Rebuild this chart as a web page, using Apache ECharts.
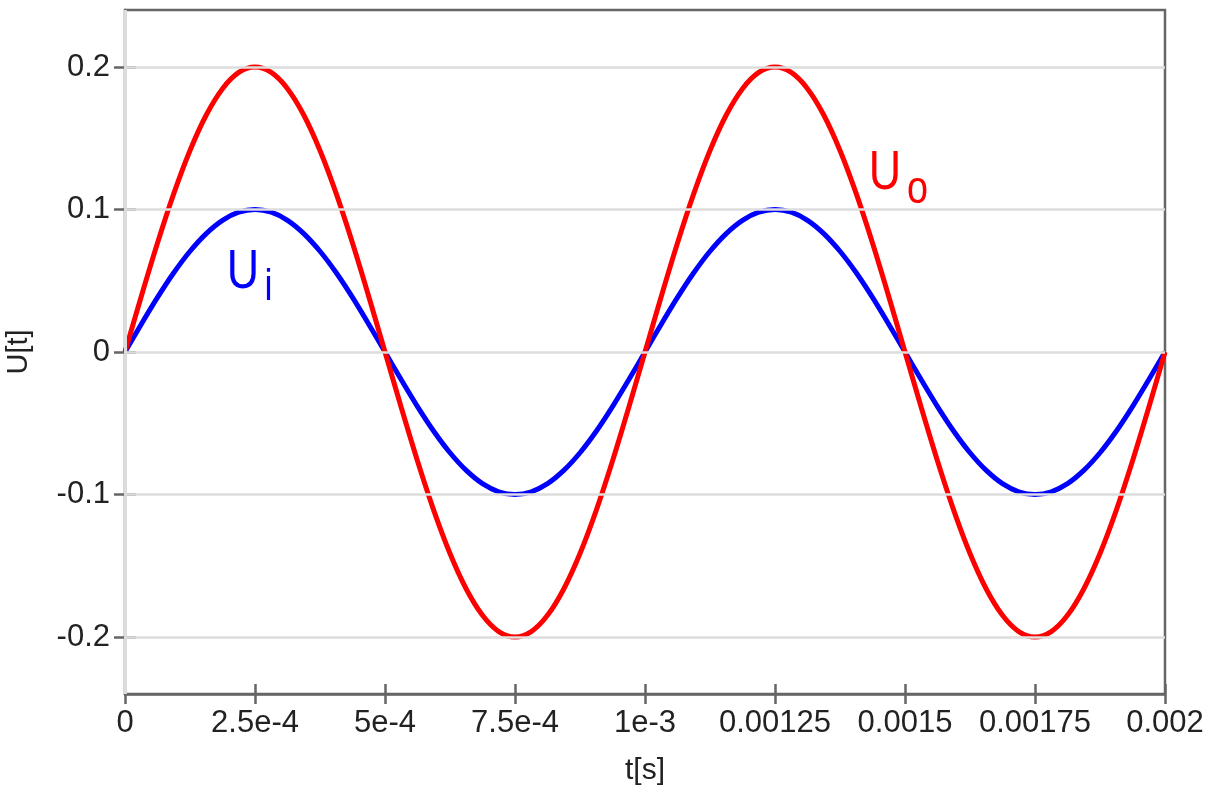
<!DOCTYPE html>
<html>
<head>
<meta charset="utf-8">
<script src="https://cdn.jsdelivr.net/npm/echarts@6/dist/echarts.min.js"></script>
<style>
html,body{margin:0;padding:0;background:#fff;}
#chart{width:1211px;height:787px;}
</style>
</head>
<body>
<div id="chart"></div>
<script>
// time samples [s]
const tValues = [0, 0.00003125, 0.0000625, 0.00009375, 0.000125, 0.00015625, 0.0001875, 0.00021875, 0.00025, 0.00028125, 0.0003125, 0.00034375, 0.000375, 0.00040625, 0.0004375, 0.00046875, 0.0005, 0.00053125, 0.0005625, 0.00059375, 0.000625, 0.00065625, 0.0006875, 0.00071875, 0.00075, 0.00078125, 0.0008125, 0.00084375, 0.000875, 0.00090625, 0.0009375, 0.00096875, 0.001, 0.00103125, 0.0010625, 0.00109375, 0.001125, 0.00115625, 0.0011875, 0.00121875, 0.00125, 0.00128125, 0.0013125, 0.00134375, 0.001375, 0.00140625, 0.0014375, 0.00146875, 0.0015, 0.00153125, 0.0015625, 0.00159375, 0.001625, 0.00165625, 0.0016875, 0.00171875, 0.00175, 0.00178125, 0.0018125, 0.00184375, 0.001875, 0.00190625, 0.0019375, 0.00196875, 0.002];
// input voltage Ui
const uiValues = [0, 0.0195, 0.0383, 0.0556, 0.0707, 0.0831, 0.0924, 0.0981, 0.1, 0.0981, 0.0924, 0.0831, 0.0707, 0.0556, 0.0383, 0.0195, 0, -0.0195, -0.0383, -0.0556, -0.0707, -0.0831, -0.0924, -0.0981, -0.1, -0.0981, -0.0924, -0.0831, -0.0707, -0.0556, -0.0383, -0.0195, 0, 0.0195, 0.0383, 0.0556, 0.0707, 0.0831, 0.0924, 0.0981, 0.1, 0.0981, 0.0924, 0.0831, 0.0707, 0.0556, 0.0383, 0.0195, 0, -0.0195, -0.0383, -0.0556, -0.0707, -0.0831, -0.0924, -0.0981, -0.1, -0.0981, -0.0924, -0.0831, -0.0707, -0.0556, -0.0383, -0.0195, 0];
// output voltage Uo
const uoValues = [0, 0.039, 0.0765, 0.1111, 0.1414, 0.1663, 0.1848, 0.1962, 0.2, 0.1962, 0.1848, 0.1663, 0.1414, 0.1111, 0.0765, 0.039, 0, -0.039, -0.0765, -0.1111, -0.1414, -0.1663, -0.1848, -0.1962, -0.2, -0.1962, -0.1848, -0.1663, -0.1414, -0.1111, -0.0765, -0.039, 0, 0.039, 0.0765, 0.1111, 0.1414, 0.1663, 0.1848, 0.1962, 0.2, 0.1962, 0.1848, 0.1663, 0.1414, 0.1111, 0.0765, 0.039, 0, -0.039, -0.0765, -0.1111, -0.1414, -0.1663, -0.1848, -0.1962, -0.2, -0.1962, -0.1848, -0.1663, -0.1414, -0.1111, -0.0765, -0.039, 0];

const xTickValues = [0, 0.00025, 0.0005, 0.00075, 0.001, 0.00125, 0.0015, 0.00175, 0.002];
const xTickLabels = ['0', '2.5e-4', '5e-4', '7.5e-4', '1e-3', '0.00125', '0.0015', '0.00175', '0.002'];
const yTickValues = [-0.2, -0.1, 0, 0.1, 0.2];
const yTickLabels = ['-0.2', '-0.1', '0', '0.1', '0.2'];

const xName = 't[s]';
const yName = 'U[t]';
const seriesNames = ['Ui', 'Uo'];
// curve labels: main letter, subscript, anchor (data coords of the main letter centre)
const labelMain = ['U', 'U'];
const labelSub = ['i', 'o'];
const labelT = [0.000227, 0.0014615];
const labelV = [0.0556, 0.1252];

const RED = '#ff0000', BLUE = '#0000ff';
const AXIS = '#666666', GRIDC = '#dddddd', TEXT = '#222';
const FONT = '"Liberation Sans", Arial, Helvetica, sans-serif';

function nearestLabel(values, labels, v) {
  let best = 0, bd = Infinity;
  values.forEach((x, i) => { const d = Math.abs(x - v); if (d < bd) { bd = d; best = i; } });
  return bd < 1e-9 ? labels[best] : '';
}

const chart = echarts.init(document.getElementById('chart'), null, {renderer: 'canvas'});

const xRange = [0, 0.002];
const yRange = [-0.24, 0.24];

const option = {
  animation: false,
  backgroundColor: '#fff',
  grid: {left: 125, right: 46, top: 10, bottom: 93, outerBoundsMode: 'none', containLabel: false,
    show: true, borderColor: AXIS, borderWidth: 2.5, backgroundColor: 'transparent'},
  xAxis: [{
    type: 'value', min: xRange[0], max: xRange[1], interval: 0.00025, position: 'bottom',
    name: xName, nameLocation: 'middle', nameGap: 62,
    nameTextStyle: {fontFamily: FONT, fontSize: 30, color: TEXT},
    axisLine: {show: true, onZero: false, lineStyle: {color: AXIS, width: 2.5}},
    axisTick: {show: true, inside: false, length: 10, lineStyle: {color: AXIS, width: 2.5}, customValues: xTickValues},
    axisLabel: {show: true, margin: 14, fontFamily: FONT, fontSize: 31, color: TEXT, customValues: xTickValues,
      formatter: v => nearestLabel(xTickValues, xTickLabels, v)},
    splitLine: {show: false}
  }, {
    type: 'value', min: xRange[0], max: xRange[1], interval: 0.00025, position: 'bottom', offset: 0,
    axisLine: {show: false, onZero: false},
    axisTick: {show: true, inside: true, length: 10, lineStyle: {color: AXIS, width: 2.5}, customValues: xTickValues},
    axisLabel: {show: false},
    splitLine: {show: false}
  }],
  yAxis: [{
    type: 'value', min: yRange[0], max: yRange[1], position: 'left',
    name: yName, nameLocation: 'middle', nameGap: 92, nameRotate: 90,
    nameTextStyle: {fontFamily: FONT, fontSize: 29, color: TEXT},
    axisLine: {show: true, onZero: false, lineStyle: {color: AXIS, width: 2.5}},
    axisTick: {show: true, inside: false, length: 11, lineStyle: {color: AXIS, width: 2.5}, customValues: yTickValues},
    axisLabel: {show: true, margin: 15, fontFamily: FONT, fontSize: 31, color: TEXT, customValues: yTickValues,
      formatter: v => nearestLabel(yTickValues, yTickLabels, v)},
    splitLine: {show: false}
  }, {
    type: 'value', min: yRange[0], max: yRange[1], position: 'left', offset: 0,
    axisLine: {show: false, onZero: false},
    axisTick: {show: true, inside: true, length: 11, lineStyle: {color: AXIS, width: 2.5}, customValues: yTickValues},
    axisLabel: {show: false},
    splitLine: {show: false}
  }],
  series: [{
    type: 'line', name: 'grid', data: [], z: 1, silent: true,
    markLine: {
      silent: true, symbol: ['none', 'none'], animation: false,
      label: {show: false},
      lineStyle: {color: GRIDC, width: 2.5, type: 'solid'},
      emphasis: {disabled: true},
      data: yTickValues.map(v => ({yAxis: v})).concat(xTickValues.slice(1, -1).map(v => ({xAxis: v})))
    }
  }, {
    type: 'line', name: seriesNames[0], z: 3,
    data: tValues.map((t, i) => [t, uiValues[i]]),
    smooth: 0.3, showSymbol: false, symbol: 'none',
    lineStyle: {color: BLUE, width: 5}, itemStyle: {color: BLUE}
  }, {
    type: 'line', name: seriesNames[1], z: 4,
    data: tValues.map((t, i) => [t, uoValues[i]]),
    smooth: 0.3, showSymbol: false, symbol: 'none',
    lineStyle: {color: RED, width: 5}, itemStyle: {color: RED}
  }]
};
chart.setOption(option);

// curve annotations positioned through the chart's own scales
const labelColors = [BLUE, RED];
const subOffsets = [[25.5, 15], [32.5, 17]];
const subSizes = [44, 46];
const graphics = [];
labelMain.forEach((m, i) => {
  const p = chart.convertToPixel({gridIndex: 0}, [labelT[i], labelV[i]]);
  graphics.push({
    type: 'text', x: p[0], y: p[1], scaleX: 0.8, z: 10,
    style: {text: m, x: 0, y: 0, align: 'center', verticalAlign: 'middle', font: '56px ' + FONT, fill: labelColors[i]}
  });
  graphics.push({
    type: 'text', x: p[0] + subOffsets[i][0], y: p[1] + subOffsets[i][1], scaleX: 0.82, z: 10,
    style: {text: labelSub[i], x: 0, y: 0, align: 'center', verticalAlign: 'middle', font: subSizes[i] + 'px ' + FONT, fill: labelColors[i]}
  });
});
chart.setOption({graphic: graphics});
</script>
</body>
</html>
